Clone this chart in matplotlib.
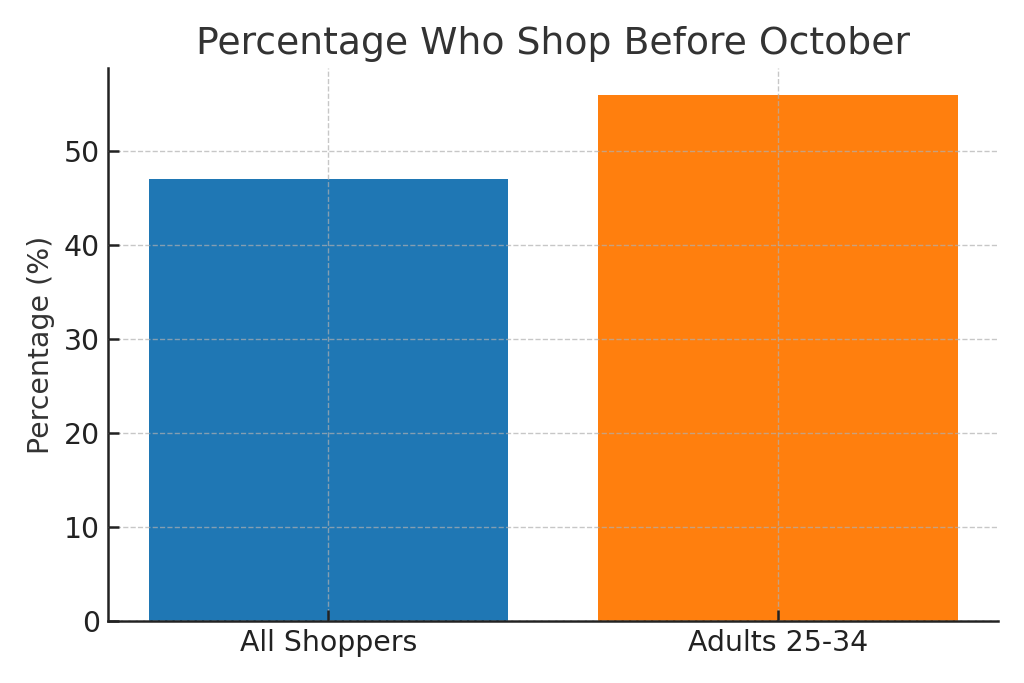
import matplotlib
matplotlib.use("Agg")
import matplotlib.pyplot as plt

categories = ["All Shoppers", "Adults 25-34"]
values = [47, 56]
colors = ["#1f77b4", "#ff7f0e"]

text_color = "#333333"
fig, ax = plt.subplots(figsize=(10.24, 6.83), dpi=100)
fig.subplots_adjust(left=0.1055, right=0.975, top=0.9, bottom=0.091)

ax.bar(categories, values, color=colors, width=0.8, zorder=1)
ax.set_title("Percentage Who Shop Before October", fontsize=27.2, color=text_color, pad=10)
ax.set_ylabel("Percentage (%)", fontsize=20.4, color=text_color, labelpad=6)
ax.grid(True, linestyle="--", color="#b0b0b0", alpha=0.7, linewidth=1, zorder=2)
ax.set_axisbelow(False)
for s in ["top", "right"]:
    ax.spines[s].set_visible(False)
for s in ["left", "bottom"]:
    ax.spines[s].set_linewidth(1.8)
    ax.spines[s].set_color("#222222")
ax.tick_params(axis="both", direction="in", length=8, width=1.8, labelsize=20.4, colors="#222222", pad=6)
ax.set_yticks([0, 10, 20, 30, 40, 50])

fig.savefig("out.png", dpi=100)
